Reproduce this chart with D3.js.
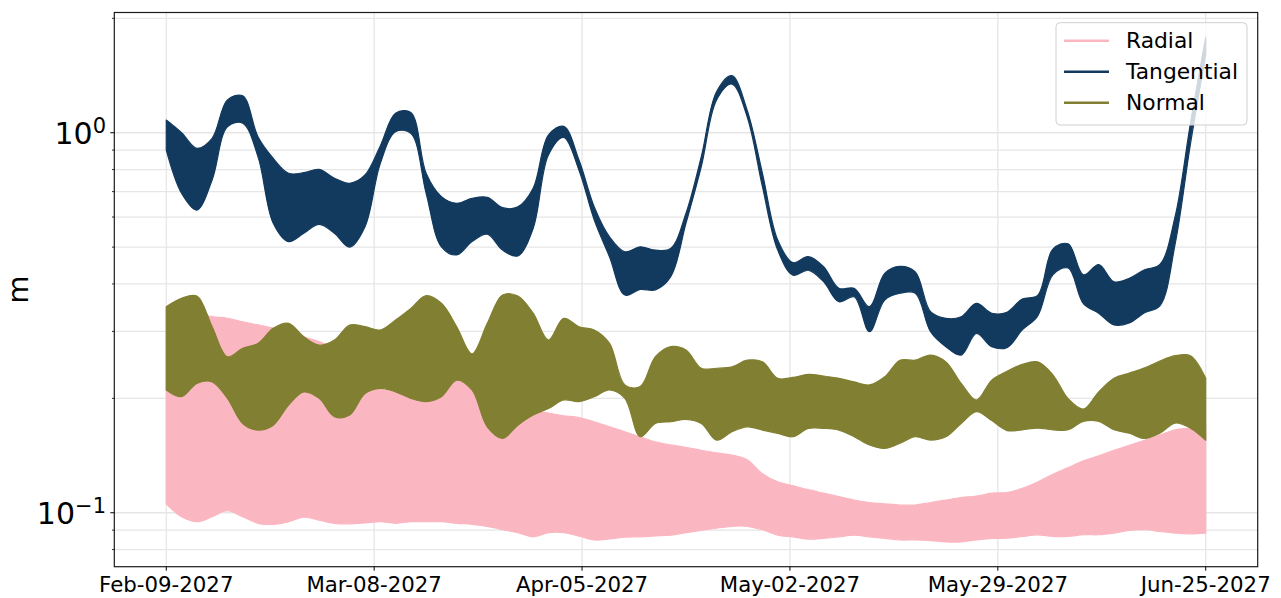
<!DOCTYPE html>
<html><head><meta charset="utf-8">
<script src="https://cdn.jsdelivr.net/npm/d3@7/dist/d3.min.js"></script>
<style>
body{margin:0;background:#fff;}
text{font-family:"DejaVu Sans",sans-serif;fill:#000;}
</style>
</head><body>
<svg id="chart" width="1281" height="598"></svg>
<script>
// ---------------- data ----------------
const startDate = new Date(2027, 1, 9);
const spanDays = 136;
// sample days (every 2 days from start)
const days = [0,2,4,6,8,10,12,14,16,18,20,22,24,26,28,30,32,34,36,38,40,42,44,46,48,50,52,54,56,58,60,62,64,66,68,
  70,72,74,76,78,80,82,84,86,88,90,92,94,96,98,100,102,104,106,108,110,112,114,116,118,120,122,124,126,128,130,132,134,136];

const seriesNames = ["Radial", "Tangential", "Normal"];
const seriesColors = ["#fbb7c1", "#123a5e", "#817f31"];

// envelope (upper / lower) of each oscillating series, metres
const radialHi = [0.345,0.34,0.335,0.328,0.325,0.318,0.312,0.306,0.30,0.29,0.282,0.27,0.25,0.23,0.212,0.208,0.205,0.204,0.21,0.222,
  0.224,0.205,0.196,0.19,0.186,0.183,0.18,0.178,0.1736,0.1683,0.1633,0.1585,0.1536,0.1508,0.1487,0.146,0.1438,0.1418,0.1378,0.1266,
  0.1206,0.1178,0.115,0.1126,0.1103,0.108,0.1064,0.1056,0.1048,0.1048,0.1064,0.108,0.1096,0.1106,0.1126,0.113,0.1159,0.1205,0.1263,
  0.1314,0.137,0.1412,0.1459,0.1505,0.1552,0.16,0.1653,0.167,0.17];
const radialLo = [0.1055,0.0976,0.0947,0.0976,0.1012,0.0976,0.0938,0.0932,0.0947,0.0973,0.0956,0.0938,0.0935,0.094,0.0947,0.0938,
  0.0947,0.0947,0.0947,0.0938,0.0932,0.0921,0.0902,0.0886,0.0864,0.0886,0.0886,0.0868,0.0848,0.0853,0.0862,0.0864,0.0869,0.0873,
  0.0886,0.0898,0.0911,0.0921,0.0921,0.0902,0.0873,0.0864,0.0852,0.0856,0.0864,0.0873,0.0864,0.0856,0.0848,0.0848,0.0845,0.0838,
  0.0838,0.0848,0.0856,0.0857,0.0866,0.0875,0.0866,0.0866,0.0875,0.0875,0.0884,0.0899,0.0902,0.0893,0.0884,0.088,0.0884];

const tangentialHi = [1.08,1.0,0.91,0.967,1.22,1.25,0.976,0.856,0.782,0.785,0.801,0.759,0.736,0.774,0.923,1.125,1.13,0.782,0.679,
  0.652,0.672,0.676,0.635,0.638,0.714,0.986,1.04,0.848,0.638,0.532,0.486,0.501,0.491,0.496,0.614,0.865,1.282,1.413,1.147,0.782,
  0.522,0.455,0.472,0.444,0.3895,0.3895,0.3485,0.4266,0.445,0.43,0.338,0.3247,0.328,0.3557,0.335,0.337,0.365,0.373,0.494,0.51,
  0.4227,0.45,0.4055,0.414,0.436,0.45,0.6026,1.059,1.784];
const tangentialLo = [0.90,0.693,0.626,0.751,1.037,1.06,0.865,0.578,0.517,0.544,0.574,0.544,0.50,0.566,0.83,1.006,0.996,0.693,
  0.501,0.477,0.517,0.541,0.491,0.474,0.56,0.874,0.972,0.797,0.589,0.471,0.374,0.387,0.386,0.418,0.578,0.814,1.219,1.343,1.102,
  0.721,0.491,0.422,0.435,0.4055,0.359,0.37,0.2995,0.363,0.378,0.378,0.2995,0.2735,0.26,0.2965,0.2735,0.272,0.3027,0.329,0.4227,
  0.4406,0.355,0.335,0.312,0.316,0.336,0.3504,0.51,0.934,1.607];

const normalHi = [0.3485,0.3666,0.372,0.3087,0.2573,0.271,0.279,0.3057,0.315,0.2904,0.276,0.2848,0.312,0.3087,0.3026,0.3215,0.345,
  0.3725,0.3557,0.3087,0.262,0.315,0.374,0.372,0.335,0.2848,0.3247,0.3087,0.3026,0.279,0.217,0.2147,0.2573,0.2735,0.268,0.24,0.24,
  0.242,0.252,0.2495,0.2258,0.227,0.2313,0.229,0.2258,0.221,0.217,0.228,0.252,0.252,0.26,0.2495,0.219,0.198,0.2234,0.2357,0.2456,
  0.2495,0.2307,0.1995,0.1874,0.208,0.226,0.233,0.2405,0.2508,0.259,0.259,0.226];
const normalLo = [0.2104,0.202,0.219,0.221,0.20,0.1718,0.165,0.17,0.192,0.208,0.20,0.179,0.1808,0.206,0.2125,0.208,0.20,0.196,0.202,
  0.2234,0.2104,0.1683,0.157,0.17,0.1808,0.188,0.198,0.196,0.202,0.2104,0.20,0.1585,0.1718,0.1736,0.176,0.1718,0.1553,0.1633,0.1683,
  0.165,0.1618,0.1585,0.1667,0.1667,0.165,0.1585,0.1508,0.1477,0.1523,0.1585,0.1553,0.1585,0.1718,0.1845,0.1748,0.1645,0.1653,0.167,
  0.1653,0.1653,0.174,0.174,0.1653,0.1619,0.1568,0.1619,0.1722,0.167,0.1552];

const xTickLabels = ["Feb-09-2027","Mar-08-2027","Apr-05-2027","May-02-2027","May-29-2027","Jun-25-2027"];
const yMajorTicks = [0.1, 1];
const yMajorLabels = [["10","\u22121"],["10","0"]];
const yMinorTicks = [0.08,0.09,0.2,0.3,0.4,0.5,0.6,0.7,0.8,0.9,2];
const yLabel = "m";

// ---------------- layout ----------------
const M = {l:114.3, r:1257.7, t:12.5, b:566.7};
const dayMs = 864e5;
const toDate = d => new Date(startDate.getTime() + d*dayMs);
const pad = spanDays*0.05;

const x = d3.scaleTime().domain([toDate(-pad), toDate(spanDays+pad)]).range([M.l, M.r]);
const y = d3.scaleLog().domain([0.07211, 2.072]).range([M.b, M.t]);

const svg = d3.select("#chart");

// grid
const g = svg.append("g");
const xTickDates = xTickLabels.map((_, i) => toDate(i*spanDays/(xTickLabels.length-1)));
g.selectAll("line.hg").data(yMajorTicks.concat(yMinorTicks)).join("line")
  .attr("x1", M.l).attr("x2", M.r).attr("y1", d=>y(d)).attr("y2", d=>y(d))
  .attr("stroke", "#e6e6e6").attr("stroke-width", 1.3);
g.selectAll("line.vg").data(xTickDates).join("line")
  .attr("x1", d=>x(d)).attr("x2", d=>x(d)).attr("y1", M.t).attr("y2", M.b)
  .attr("stroke", "#e6e6e6").attr("stroke-width", 1.3);

// series bands
const bands = [
  {hi: radialHi, lo: radialLo},
  {hi: tangentialHi, lo: tangentialLo},
  {hi: normalHi, lo: normalLo}
];
const area = d3.area()
  .x(d => x(toDate(d.day)))
  .y0(d => y(d.lo)).y1(d => y(d.hi))
  .curve(d3.curveCatmullRom.alpha(0.5));
const plot = svg.append("g");
bands.forEach((b, i) => {
  const pts = days.map((d, k) => ({day: d, hi: b.hi[k], lo: b.lo[k]}));
  plot.append("path").datum(pts).attr("d", area)
    .attr("fill", seriesColors[i])
    .attr("stroke", seriesColors[i]).attr("stroke-width", 1.2).attr("stroke-linejoin","round");
});

// frame
svg.append("rect").attr("x", M.l).attr("y", M.t).attr("width", M.r-M.l).attr("height", M.b-M.t)
  .attr("fill","none").attr("stroke","#1a1a1a").attr("stroke-width",1.2);

// x axis ticks + labels
const xa = svg.append("g");
xa.selectAll("line").data(xTickDates).join("line")
  .attr("x1", d=>x(d)).attr("x2", d=>x(d)).attr("y1", M.b).attr("y2", M.b+4)
  .attr("stroke","#000").attr("stroke-width",1);
xa.selectAll("text").data(xTickDates).join("text")
  .attr("x", d=>x(d)).attr("y", 591.5).attr("text-anchor","middle")
  .attr("font-size", 21.3).text((d,i)=>xTickLabels[i]);

// y axis ticks
const ya = svg.append("g");
ya.selectAll("line.maj").data(yMajorTicks).join("line")
  .attr("x1", M.l-4).attr("x2", M.l).attr("y1", d=>y(d)).attr("y2", d=>y(d))
  .attr("stroke","#000").attr("stroke-width",1);
ya.selectAll("line.min").data(yMinorTicks).join("line").attr("class","min")
  .attr("x1", M.l-2.3).attr("x2", M.l).attr("y1", d=>y(d)).attr("y2", d=>y(d))
  .attr("stroke","#000").attr("stroke-width",0.8);
yMajorTicks.forEach((v, i) => {
  const t = ya.append("text").attr("x", 106).attr("y", y(v)+11.6)
    .attr("text-anchor","end").attr("font-size", 30);
  t.append("tspan").text(yMajorLabels[i][0]);
  t.append("tspan").attr("dy", -11).attr("font-size", 21).text(yMajorLabels[i][1]);
});

// y label
svg.append("text").attr("transform", `translate(28,${(M.t+M.b)/2}) rotate(-90)`)
  .attr("text-anchor","middle").attr("font-size", 29).text(yLabel);

// legend
const lg = svg.append("g");
lg.append("rect").attr("x",1056).attr("y",22.7).attr("width",191).attr("height",102.3)
  .attr("rx",4).attr("fill","#fff").attr("fill-opacity",0.8).attr("stroke","#d0d0d0").attr("stroke-width",1);
seriesNames.forEach((n, i) => {
  const ry = 40.7 + i*31;
  lg.append("line").attr("x1",1064).attr("x2",1109).attr("y1",ry).attr("y2",ry)
    .attr("stroke",seriesColors[i]).attr("stroke-width",2.5);
  lg.append("text").attr("x",1126).attr("y",ry+7.6).attr("font-size",21.8).text(n);
});
</script>
</body></html>
